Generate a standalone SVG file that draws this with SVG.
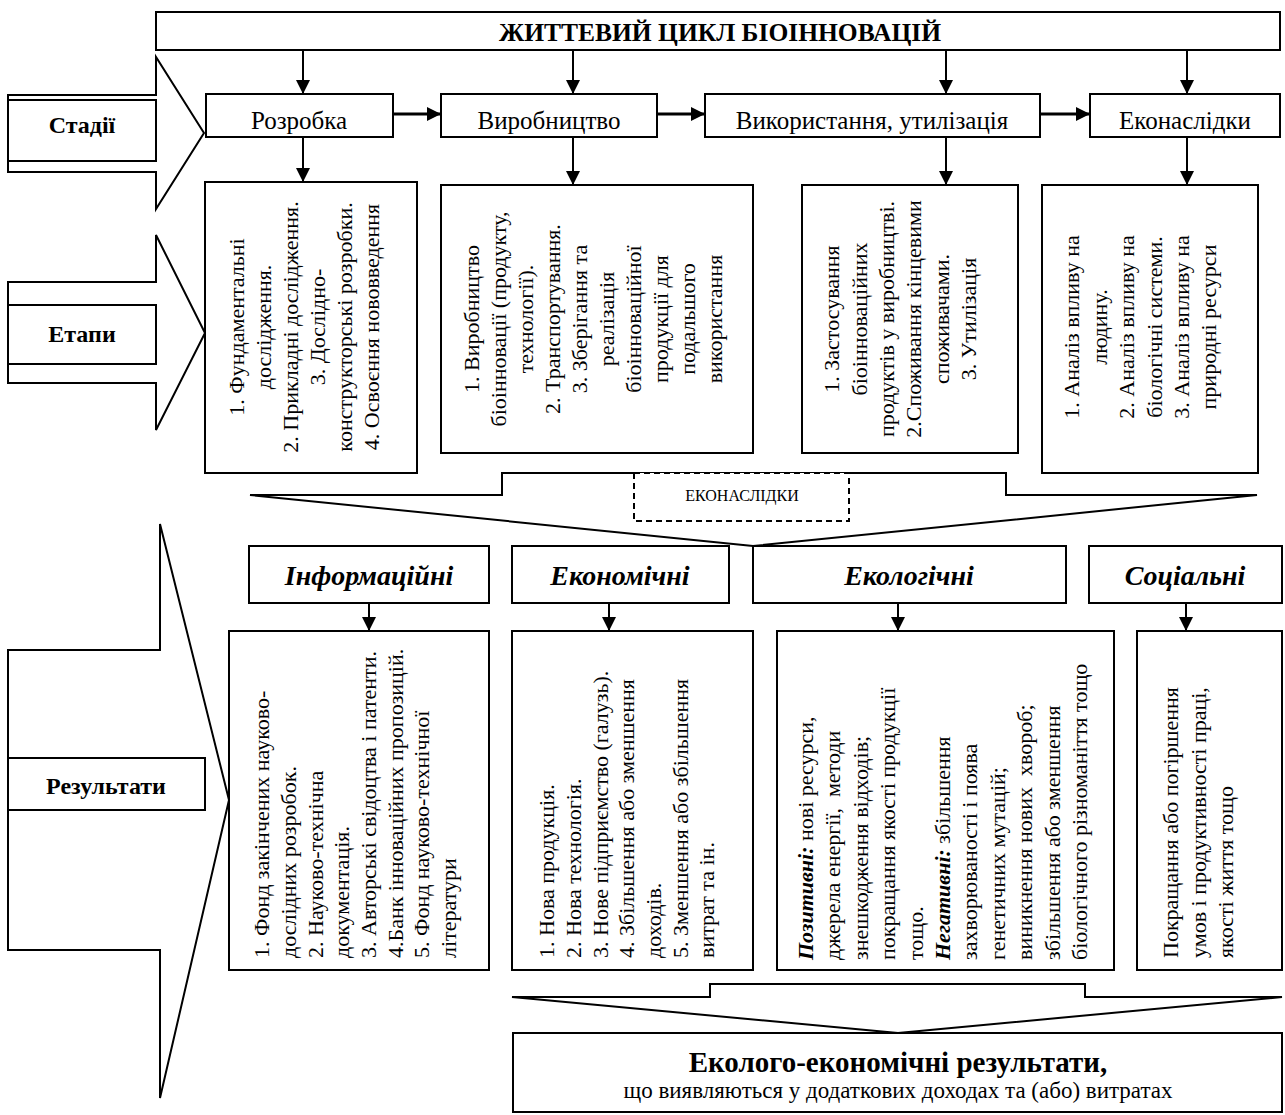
<svg xmlns="http://www.w3.org/2000/svg" width="1285" height="1115" viewBox="0 0 1285 1115" font-family="'Liberation Serif', 'Times New Roman', serif">
<defs>
<marker id="ah" markerUnits="userSpaceOnUse" markerWidth="14" markerHeight="16" refX="14" refY="7" orient="auto">
<path d="M0,0 L14,7 L0,14 Z" fill="#000"/>
</marker>
<style>
.b{fill:#fff;stroke:#000;stroke-width:2}
.ln{fill:none;stroke:#000;stroke-width:2}
.th{fill:none;stroke:#000;stroke-width:3}
text{font-family:'Liberation Serif','Times New Roman',serif;fill:#000}
.st{font-size:25px;text-anchor:middle}
.bx{font-size:22px;text-anchor:middle}
.rs{font-size:22px;text-anchor:start}
.hd{font-size:28px;font-weight:bold;font-style:italic;text-anchor:middle}
.lb{font-size:24px;font-weight:bold;text-anchor:middle}
.bi{font-weight:bold;font-style:italic}
</style>
</defs>
<rect width="1285" height="1115" fill="#fff"/>

<g id="arrow-stadii">
<polygon class="b" points="8,95 156,95 156,57 204,133 156,209 156,172 8,172"/>
<rect class="b" x="8" y="100" width="148" height="61"/>
<text class="lb" x="82" y="133">Стадії</text>
</g>
<g id="arrow-etapy">
<polygon class="b" points="8,282 156,282 156,235 205,333 156,430 156,383 8,383"/>
<rect class="b" x="8" y="305" width="148" height="59"/>
<text class="lb" x="82" y="342">Етапи</text>
</g>
<g id="arrow-rezultaty">
<polygon class="b" points="8,650 160,650 160,524 229,800 160,1098 160,950 8,950"/>
<rect class="b" x="8" y="758" width="197" height="52"/>
<text class="lb" x="106" y="794">Результати</text>
</g>

<g id="connectors">
<line class="ln" x1="303" y1="50" x2="303" y2="94" marker-end="url(#ah)"/>
<line class="ln" x1="573" y1="50" x2="573" y2="94" marker-end="url(#ah)"/>
<line class="ln" x1="946" y1="40" x2="946" y2="94" marker-end="url(#ah)"/>
<line class="ln" x1="1187" y1="40" x2="1187" y2="94" marker-end="url(#ah)"/>
<line class="th" x1="393" y1="114" x2="441" y2="114" marker-end="url(#ah)"/>
<line class="th" x1="657" y1="114" x2="705" y2="114" marker-end="url(#ah)"/>
<line class="th" x1="1040" y1="114" x2="1090" y2="114" marker-end="url(#ah)"/>
<line class="ln" x1="303" y1="137" x2="303" y2="182" marker-end="url(#ah)"/>
<line class="ln" x1="573" y1="137" x2="573" y2="185" marker-end="url(#ah)"/>
<line class="ln" x1="946" y1="137" x2="946" y2="185" marker-end="url(#ah)"/>
<line class="ln" x1="1187" y1="137" x2="1187" y2="185" marker-end="url(#ah)"/>
<line class="ln" x1="369" y1="603" x2="369" y2="631" marker-end="url(#ah)"/>
<line class="ln" x1="609" y1="603" x2="609" y2="631" marker-end="url(#ah)"/>
<line class="ln" x1="898" y1="603" x2="898" y2="631" marker-end="url(#ah)"/>
<line class="ln" x1="1186" y1="603" x2="1186" y2="631" marker-end="url(#ah)"/>
<polygon class="ln" points="250,495 502,495 502,473 1006,473 1006,495 1257,495 753,546"/>
<polygon class="ln" points="512,997 710,997 710,984 1085,984 1085,997 1282,997 898,1033"/>
</g>

<g id="title">
<rect class="b" x="156" y="12" width="1124" height="38"/>
<text x="720" y="41" font-size="25.5" font-weight="bold" text-anchor="middle">ЖИТТЕВИЙ ЦИКЛ БІОІННОВАЦІЙ</text>
</g>

<g id="stage-1"><rect class="b" x="206" y="94" width="187" height="43"/><text class="st" x="299" y="129">Розробка</text></g>
<g id="stage-2"><rect class="b" x="441" y="94" width="216" height="43"/><text class="st" x="549" y="129">Виробництво</text></g>
<g id="stage-3"><rect class="b" x="705" y="94" width="335" height="43"/><text class="st" x="872" y="129">Використання, утилізація</text></g>
<g id="stage-4"><rect class="b" x="1090" y="94" width="190" height="43"/><text class="st" x="1185" y="129">Еконаслідки</text></g>

<g id="etap-1">
<rect class="b" x="205" y="182" width="212" height="291"/>
<text class="bx" transform="translate(244,327) rotate(-90)">1. Фундаментальні</text>
<text class="bx" transform="translate(271,327) rotate(-90)">дослідження.</text>
<text class="bx" transform="translate(298,327) rotate(-90)">2. Прикладні дослідження.</text>
<text class="bx" transform="translate(325,327) rotate(-90)">3. Дослідно-</text>
<text class="bx" transform="translate(352,327) rotate(-90)">конструкторські розробки.</text>
<text class="bx" transform="translate(379,327) rotate(-90)">4. Освоєння нововведення</text>
</g>
<g id="etap-2">
<rect class="b" x="441" y="185" width="312" height="268"/>
<text class="bx" transform="translate(479,319) rotate(-90)">1. Виробництво</text>
<text class="bx" transform="translate(506,319) rotate(-90)">біоінновації (продукту,</text>
<text class="bx" transform="translate(533,319) rotate(-90)">технології).</text>
<text class="bx" transform="translate(560,319) rotate(-90)">2. Транспортування.</text>
<text class="bx" transform="translate(587,319) rotate(-90)">3. Зберігання та</text>
<text class="bx" transform="translate(614,319) rotate(-90)">реалізація</text>
<text class="bx" transform="translate(641,319) rotate(-90)">біоінноваційної</text>
<text class="bx" transform="translate(668,319) rotate(-90)">продукції для</text>
<text class="bx" transform="translate(695,319) rotate(-90)">подальшого</text>
<text class="bx" transform="translate(722,319) rotate(-90)">використання</text>
</g>
<g id="etap-3">
<rect class="b" x="802" y="185" width="216" height="268"/>
<text class="bx" transform="translate(839,319) rotate(-90)">1. Застосування</text>
<text class="bx" transform="translate(867,319) rotate(-90)">біоінноваційних</text>
<text class="bx" transform="translate(894,319) rotate(-90)">продуктів у виробництві.</text>
<text class="bx" transform="translate(921,319) rotate(-90)">2.Споживання кінцевими</text>
<text class="bx" transform="translate(949,319) rotate(-90)">споживачами.</text>
<text class="bx" transform="translate(976,319) rotate(-90)">3. Утилізація</text>
</g>
<g id="etap-4">
<rect class="b" x="1042" y="185" width="216" height="288"/>
<text class="bx" transform="translate(1079,327) rotate(-90)">1. Аналіз впливу на</text>
<text class="bx" transform="translate(1107,327) rotate(-90)">людину.</text>
<text class="bx" transform="translate(1134,327) rotate(-90)">2. Аналіз впливу на</text>
<text class="bx" transform="translate(1162,327) rotate(-90)">біологічні системи.</text>
<text class="bx" transform="translate(1189,327) rotate(-90)">3. Аналіз впливу на</text>
<text class="bx" transform="translate(1216,327) rotate(-90)">природні ресурси</text>
</g>

<g id="ekonaslidky">
<rect x="634" y="473" width="215" height="48" fill="#fff" stroke="#000" stroke-width="2" stroke-dasharray="6,4"/>
<text x="742" y="501" font-size="16" text-anchor="middle">ЕКОНАСЛІДКИ</text>
</g>

<g id="hdr-1"><rect class="b" x="249" y="546" width="240" height="57"/><text class="hd" x="369" y="585">Інформаційні</text></g>
<g id="hdr-2"><rect class="b" x="512" y="546" width="217" height="57"/><text class="hd" x="620" y="585">Економічні</text></g>
<g id="hdr-3"><rect class="b" x="753" y="546" width="313" height="57"/><text class="hd" x="909" y="585">Екологічні</text></g>
<g id="hdr-4"><rect class="b" x="1089" y="546" width="193" height="57"/><text class="hd" x="1185" y="585">Соціальні</text></g>

<g id="res-1">
<rect class="b" x="229" y="631" width="260" height="339"/>
<text class="rs" transform="translate(269,958) rotate(-90)">1. Фонд закінчених науково-</text>
<text class="rs" transform="translate(296,958) rotate(-90)">дослідних розробок.</text>
<text class="rs" transform="translate(323,958) rotate(-90)">2. Науково-технічна</text>
<text class="rs" transform="translate(349,958) rotate(-90)">документація.</text>
<text class="rs" transform="translate(376,958) rotate(-90)">3. Авторські свідоцтва і патенти.</text>
<text class="rs" transform="translate(403,958) rotate(-90)">4.Банк інноваційних пропозицій.</text>
<text class="rs" transform="translate(429,958) rotate(-90)">5. Фонд науково-технічної</text>
<text class="rs" transform="translate(456,958) rotate(-90)">літератури</text>
</g>
<g id="res-2">
<rect class="b" x="512" y="631" width="241" height="339"/>
<text class="rs" transform="translate(554,958) rotate(-90)">1. Нова продукція.</text>
<text class="rs" transform="translate(581,958) rotate(-90)">2. Нова технологія.</text>
<text class="rs" transform="translate(608,958) rotate(-90)">3. Нове підприємство (галузь).</text>
<text class="rs" transform="translate(634,958) rotate(-90)">4. Збільшення або зменшення</text>
<text class="rs" transform="translate(661,958) rotate(-90)">доходів.</text>
<text class="rs" transform="translate(688,958) rotate(-90)">5. Зменшення або збільшення</text>
<text class="rs" transform="translate(714,958) rotate(-90)">витрат та ін.</text>
</g>
<g id="res-3">
<rect class="b" x="777" y="631" width="337" height="339"/>
<text class="rs" transform="translate(813,960) rotate(-90)"><tspan class="bi">Позитивні:</tspan> нові ресурси,</text>
<text class="rs" transform="translate(840,960) rotate(-90)" xml:space="preserve">джерела енергії,  методи</text>
<text class="rs" transform="translate(868,960) rotate(-90)">знешкодження відходів;</text>
<text class="rs" transform="translate(895,960) rotate(-90)">покращання якості продукції</text>
<text class="rs" transform="translate(923,960) rotate(-90)">тощо.</text>
<text class="rs" transform="translate(950,960) rotate(-90)"><tspan class="bi">Негативні:</tspan> збільшення</text>
<text class="rs" transform="translate(977,960) rotate(-90)">захворюваності і поява</text>
<text class="rs" transform="translate(1005,960) rotate(-90)">генетичних мутацій;</text>
<text class="rs" transform="translate(1032,960) rotate(-90)" xml:space="preserve">виникнення нових  хвороб;</text>
<text class="rs" transform="translate(1060,960) rotate(-90)">збільшення або зменшення</text>
<text class="rs" transform="translate(1087,960) rotate(-90)">біологічного різноманіття тощо</text>
</g>
<g id="res-4">
<rect class="b" x="1137" y="631" width="145" height="339"/>
<text class="rs" transform="translate(1178,958) rotate(-90)">Покращання або погіршення</text>
<text class="rs" transform="translate(1206,958) rotate(-90)">умов і продуктивності праці,</text>
<text class="rs" transform="translate(1233,958) rotate(-90)">якості життя тощо</text>
</g>

<g id="final">
<rect class="b" x="513" y="1033" width="769" height="79"/>
<text x="898" y="1072" font-size="29" font-weight="bold" text-anchor="middle">Еколого-економічні результати,</text>
<text x="898" y="1098" font-size="23" text-anchor="middle">що виявляються у додаткових доходах та (або) витратах</text>
</g>
</svg>
